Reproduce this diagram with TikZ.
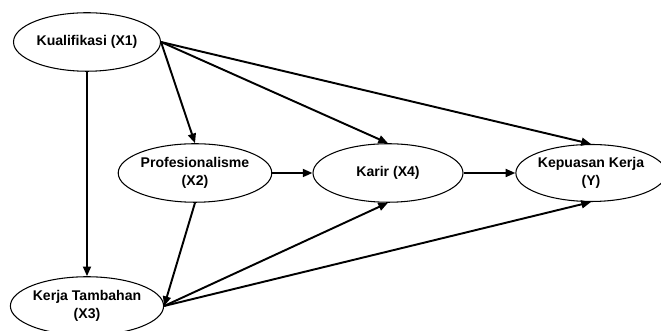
\documentclass[tikz,border=0pt]{standalone}
\usepackage{fontspec}
\setmainfont{Liberation Sans}
\usetikzlibrary{arrows.meta, positioning, shapes.geometric}

\begin{document}
\begin{tikzpicture}[auto, thick, node distance=2cm, >={Triangle[length=5.5pt, width=4.5pt]}]
	
	% Define styles
	\tikzstyle{variabel} = [ellipse, draw, line width=0.6pt, inner sep=0pt, text centered, align=center, minimum width=2.94cm, minimum height=1.17cm, font=\fontsize{8}{10.2}\selectfont\bfseries]
	\tikzstyle{panah} = [->, line width=1.1pt]
	
	\useasboundingbox (0,0) rectangle (13.22,6.62);
	
	% Nodes
	\node[variabel] (x1) at (1.74,5.78) {Kualifikasi (X1)};
	\node[variabel, below of=x1, node distance=5.28cm] (x3) {Kerja Tambahan\\(X3)};
	\node[variabel] (x2) at (3.90,3.16) {Profesionalisme\\(X2)};
	\node[variabel, right of=x2, node distance=3.86cm, minimum width=3cm] (x4) {Karir (X4)};
	\node[variabel, right of=x4, node distance=4.06cm, minimum width=2.74cm, minimum height=1.14cm] (y) {Kepuasan Kerja\\(Y)};
	
	% Arrows
	\draw[panah] (x1.south) -- (x3.north);
	\draw[panah] (x1.east) -- (x2.north);
	\draw[panah] (x1.east) -- (x4.north);
	\draw[panah] (x1.east) -- (y.north);
	\draw[panah] (x2.east) -- (x4.west);
	\draw[panah] (x4.east) -- (y.west);
	\draw[panah] (x2.south) -- (x3.east);
	\draw[panah] (x3.east) -- (x4.south);
	\draw[panah] (x3.east) -- (y.south);
	
\end{tikzpicture}
\end{document}
